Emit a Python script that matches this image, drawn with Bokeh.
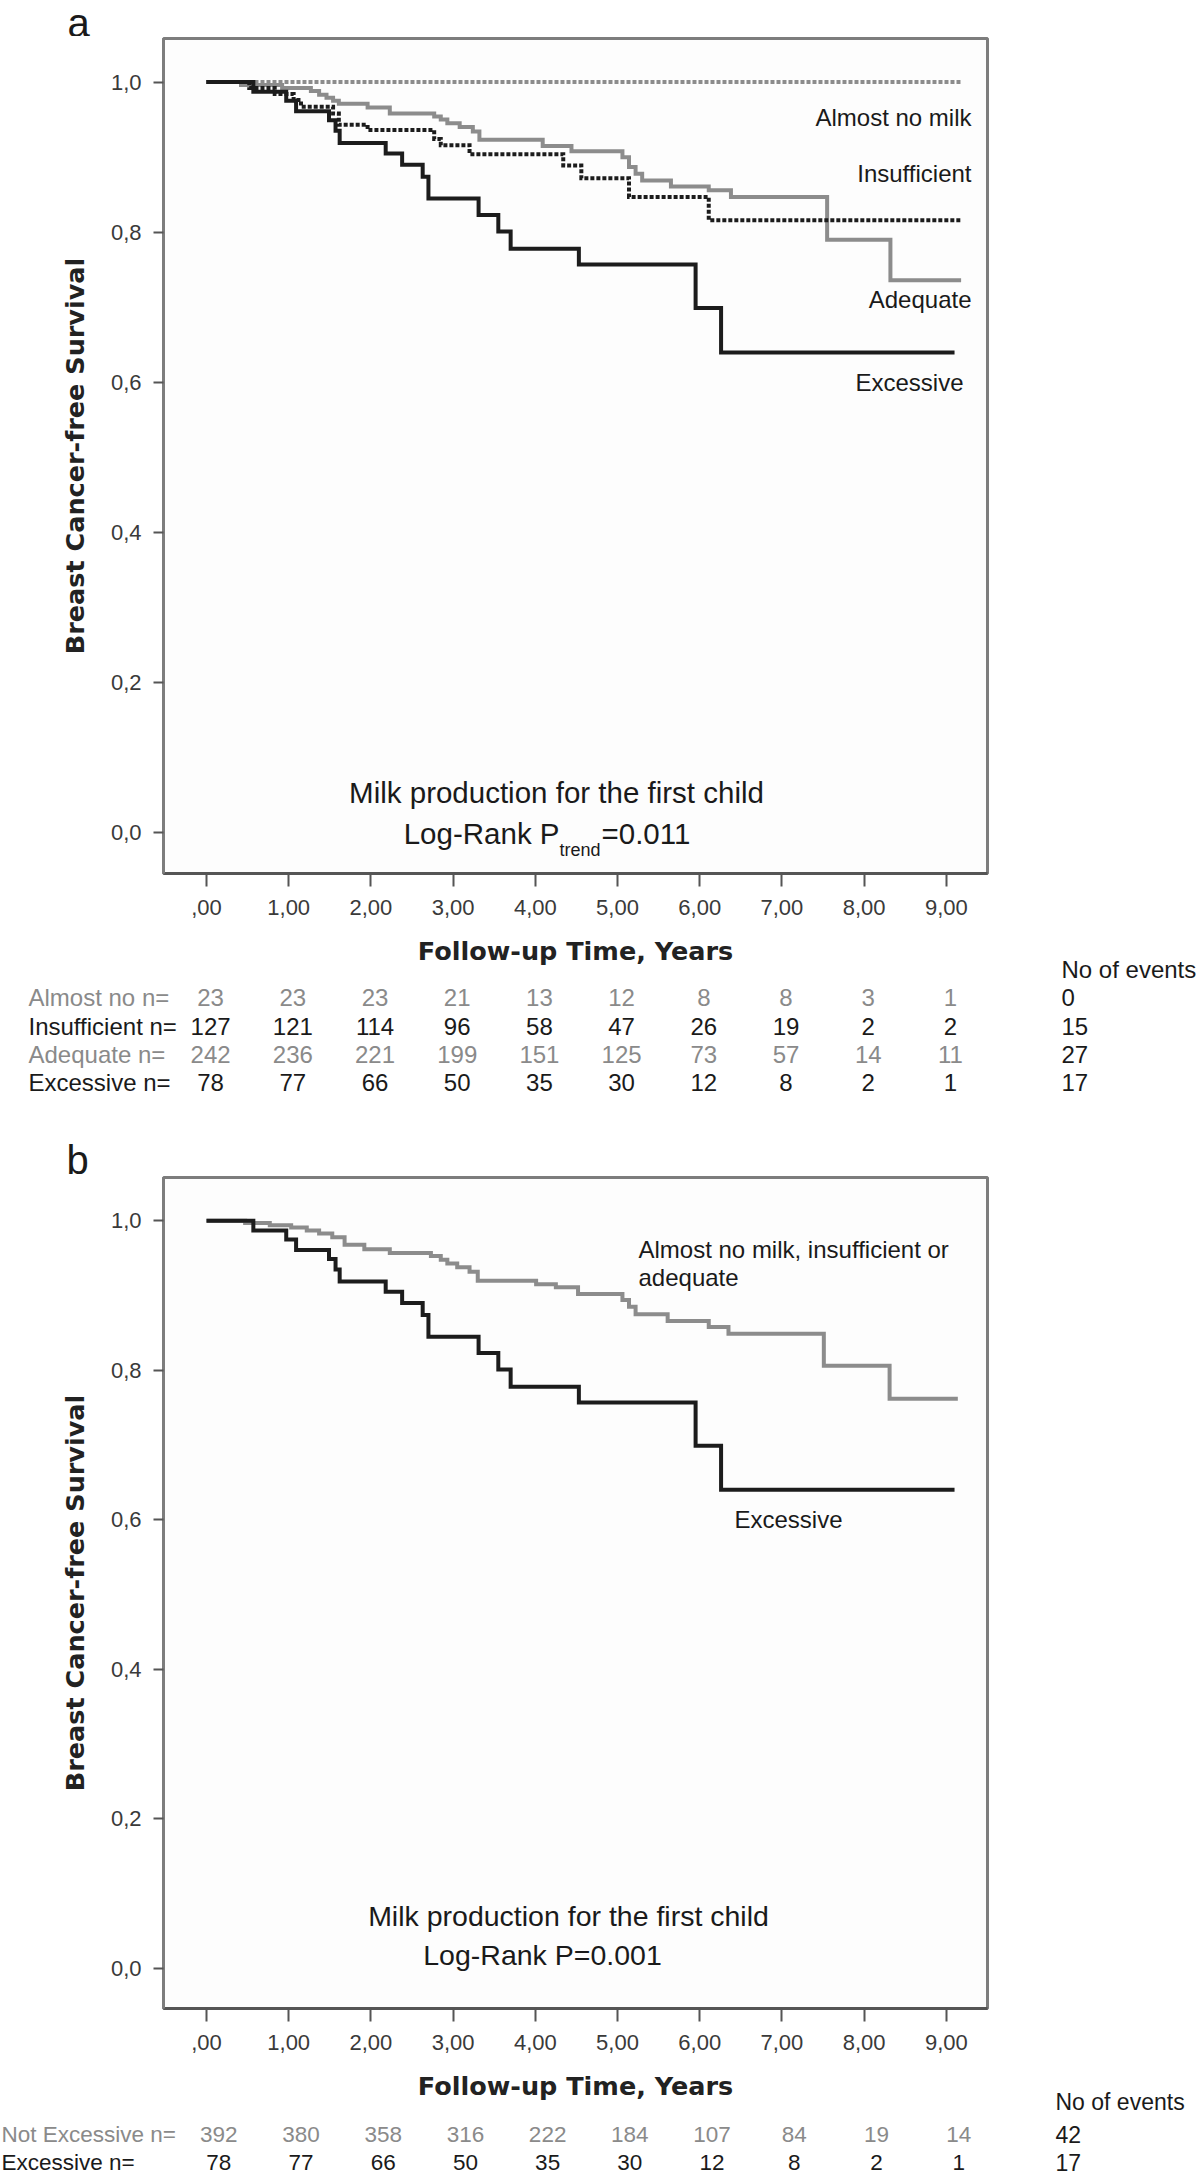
from bokeh.plotting import figure
from bokeh.models import ColumnDataSource, Range1d, FixedTicker
from bokeh.layouts import column, row
from bokeh.embed import file_html
from bokeh.resources import INLINE
from bokeh.core.properties import value

# ------------------------------------------------------------------ data
X_TICKS = [0, 1, 2, 3, 4, 5, 6, 7, 8, 9]
X_TICK_LABELS = [",00", "1,00", "2,00", "3,00", "4,00", "5,00", "6,00", "7,00", "8,00", "9,00"]
Y_TICKS = [0.0, 0.2, 0.4, 0.6, 0.8, 1.0]
Y_TICK_LABELS = ["0,0", "0,2", "0,4", "0,6", "0,8", "1,0"]

# Kaplan-Meier step curves (time in years, survival)
EXC_T = [0.0, 0.57, 0.97, 1.09, 1.49, 1.57, 1.62, 2.18, 2.38, 2.63, 2.70, 3.31, 3.55, 3.70, 4.53, 5.95, 6.26, 9.10]
EXC_S = [1.0, 0.987, 0.975, 0.961, 0.949, 0.935, 0.919, 0.905, 0.890, 0.874, 0.845, 0.823, 0.801, 0.778, 0.757, 0.699, 0.640, 0.640]

ALMOST_T = [0.0, 9.18]
ALMOST_S = [1.0, 1.0]

INSUF_T = [0.0, 0.52, 0.83, 1.06, 1.15, 1.54, 1.61, 1.96, 2.77, 2.85, 3.20, 4.34, 4.56, 5.14, 6.11, 9.18]
INSUF_S = [1.0, 0.992, 0.984, 0.976, 0.967, 0.958, 0.943, 0.936, 0.924, 0.916, 0.904, 0.889, 0.872, 0.847, 0.816, 0.816]

ADEQ_T = [0.0, 0.42, 0.92, 1.27, 1.37, 1.46, 1.54, 1.61, 1.96, 2.23, 2.77, 2.85, 2.93, 3.08, 3.24, 3.32, 4.09,
          4.44, 5.06, 5.14, 5.22, 5.30, 5.65, 6.11, 6.38, 7.55, 8.32, 9.18]
ADEQ_S = [1.0, 0.996, 0.992, 0.988, 0.983, 0.979, 0.975, 0.971, 0.966, 0.958, 0.954, 0.950, 0.945, 0.940, 0.934,
          0.923, 0.915, 0.908, 0.900, 0.887, 0.878, 0.869, 0.861, 0.856, 0.847, 0.790, 0.736, 0.736]

NOTEXC_T = [0.0, 0.47, 0.77, 1.03, 1.22, 1.37, 1.53, 1.68, 1.92, 2.23, 2.73, 2.85, 2.93, 3.05, 3.20, 3.30, 4.01,
            4.25, 4.52, 5.06, 5.14, 5.22, 5.61, 6.11, 6.35, 7.51, 8.31, 9.14]
NOTEXC_S = [1.0, 0.997, 0.994, 0.991, 0.987, 0.983, 0.978, 0.968, 0.962, 0.957, 0.953, 0.948, 0.943, 0.938, 0.932,
            0.920, 0.915, 0.911, 0.902, 0.894, 0.885, 0.875, 0.866, 0.858, 0.849, 0.806, 0.762, 0.762]

# numbers at risk
A_ROWS = ["Almost no n=", "Insufficient n=", "Adequate n=", "Excessive n="]
A_RISK = [
    [23, 23, 23, 21, 13, 12, 8, 8, 3, 1],
    [127, 121, 114, 96, 58, 47, 26, 19, 2, 2],
    [242, 236, 221, 199, 151, 125, 73, 57, 14, 11],
    [78, 77, 66, 50, 35, 30, 12, 8, 2, 1],
]
A_EVENTS = [0, 15, 27, 17]
A_CURVE_LABELS = ["Almost no milk", "Insufficient", "Adequate", "Excessive"]

B_ROWS = ["Not Excessive n=", "Excessive n="]
B_RISK = [
    [392, 380, 358, 316, 222, 184, 107, 84, 19, 14],
    [78, 77, 66, 50, 35, 30, 12, 8, 2, 1],
]
B_EVENTS = [42, 17]
B_CURVE_LABELS = ["Almost no milk, insufficient or", "adequate", "Excessive"]

EVENTS_HEADER = "No of events"
SUBTITLE = "Milk production for the first child"

# ------------------------------------------------------------------ style / layout
GRAY = "#8c8c8c"
BLACK = "#1c1c1c"
TXT_GRAY = "#8a8a8a"
TXT_BLACK = "#1a1a1a"
SANS = "Liberation Sans"
BOLD = "DejaVu Sans"

PAGE_W = 1200
MAIN_W = 1040
FRAME_L, FRAME_R = 163, 987
X_START, X_END = -0.523, 9.501
Y_START, Y_END = -0.054, 1.058
X_UNIT = (FRAME_R - FRAME_L) / (X_END - X_START)


def xd(px):
    """page x pixel -> years"""
    return X_START + (px - FRAME_L) / X_UNIT


def blank_fig(left, right, top, bottom):
    p = figure(width=right - left, height=bottom - top, title=None,
               x_range=Range1d(xd(left), xd(right)), y_range=Range1d(bottom, top),
               output_backend="svg", toolbar_location=None,
               min_border_left=0, min_border_right=0, min_border_top=0, min_border_bottom=0)
    p.axis.visible = False
    p.grid.visible = False
    p.outline_line_color = None
    p.background_fill_color = "white"
    p.border_fill_color = "white"
    return p


def txt(p, xs, ys, texts, size, align="left", color=TXT_BLACK, x_off=0, y_off=0, font=SANS):
    """ys are text baselines; text is anchored at the middle of its font box."""
    cols = color if isinstance(color, list) else [color] * len(xs)
    src = ColumnDataSource(dict(x=xs, y=ys, text=texts, color=cols))
    p.text("x", "y", text="text", source=src, text_font=value(font),
           text_font_size=value(f"{size}px"),
           text_color="color", text_align=align, text_baseline="middle",
           x_offset=x_off, y_offset=y_off - 0.3465 * size)


def make_main(fig_top, fig_bottom, frame_top, frame_bottom):
    p = figure(width=MAIN_W, height=fig_bottom - fig_top, title=None,
               x_range=Range1d(X_START, X_END), y_range=Range1d(Y_START, Y_END),
               output_backend="svg", toolbar_location=None,
               min_border_left=FRAME_L, min_border_right=MAIN_W - FRAME_R,
               min_border_top=frame_top - fig_top, min_border_bottom=fig_bottom - frame_bottom)
    p.grid.visible = False
    p.background_fill_color = "#fdfdfd"
    p.border_fill_color = "white"
    p.outline_line_color = "#7d7d7d"
    p.outline_line_width = 3

    p.xaxis.ticker = FixedTicker(ticks=X_TICKS)
    p.xaxis.major_label_overrides = {t: l for t, l in zip(X_TICKS, X_TICK_LABELS)}
    p.yaxis.ticker = FixedTicker(ticks=Y_TICKS)
    p.yaxis.major_label_overrides = {t: l for t, l in zip(Y_TICKS, Y_TICK_LABELS)}
    for ax in (p.xaxis, p.yaxis):
        ax.minor_tick_line_color = None
        ax.major_tick_in = 0
        ax.major_tick_line_color = "#555555"
        ax.major_tick_line_width = 2
        ax.major_label_text_font = SANS
        ax.major_label_text_font_size = "22px"
        ax.major_label_text_color = "#3a3a3a"
        ax.axis_label_text_font = BOLD
        ax.axis_label_text_font_style = "bold"
        ax.axis_label_text_font_size = "25.5px"
        ax.axis_label_text_color = "#222222"
    p.xaxis.axis_line_color = "#555555"
    p.xaxis.axis_line_width = 3
    p.yaxis.axis_line_color = "#7d7d7d"
    p.yaxis.axis_line_width = 3
    p.xaxis.major_tick_out = 13
    p.xaxis.major_label_standoff = 13
    p.xaxis.axis_label_standoff = 18
    p.yaxis.major_tick_out = 10
    p.yaxis.major_label_standoff = 12
    p.yaxis.axis_label_standoff = 18
    p.xaxis.axis_label = "Follow-up Time, Years"
    p.yaxis.axis_label = "Breast Cancer-free Survival"

    def yd(py):
        return Y_END - (py - frame_top) * (Y_END - Y_START) / (frame_bottom - frame_top)

    return p, yd


def curve(p, t, s, color, dash="solid"):
    src = ColumnDataSource(dict(t=t, s=s))
    p.step("t", "s", source=src, mode="after", line_color=color, line_width=4,
           line_dash=dash, line_join="miter")


def risk_rows(p, rows, risk, colors, label_px, bases, size, shift):
    txt(p, [xd(label_px)] * len(rows), bases, rows, size, color=colors)
    xs, ys, texts, cols = [], [], [], []
    for nums, b, c in zip(risk, bases, colors):
        for t, n in zip(X_TICKS, nums):
            xs.append(t + shift)
            ys.append(b)
            texts.append(str(n))
            cols.append(c)
    txt(p, xs, ys, texts, size, align="center", color=cols)


# ------------------------------------------------------------------ panel a
top_a = blank_fig(0, PAGE_W, 0, 36)
txt(top_a, [xd(67)], [36], ["a"], 40)

pa, ya = make_main(36, 975, 38, 873)
curve(pa, ALMOST_T, ALMOST_S, GRAY, "4 2")
curve(pa, ADEQ_T, ADEQ_S, GRAY)
curve(pa, INSUF_T, INSUF_S, BLACK, "4 2")
curve(pa, EXC_T, EXC_S, BLACK)
txt(pa, [xd(971), xd(971), xd(971), xd(963)], [ya(125), ya(181), ya(307), ya(390)],
    A_CURVE_LABELS, 24, align="right")
txt(pa, [xd(556)], [ya(802)], [SUBTITLE], 29.5, align="center")
txt(pa, [xd(559)], [ya(843)], ["Log-Rank P"], 29.5, align="right")
txt(pa, [xd(559)], [ya(856)], ["trend"], 18, align="left")
txt(pa, [xd(601)], [ya(843)], ["=0.011"], 29.5, align="left")

side_a = blank_fig(MAIN_W, PAGE_W, 36, 984)
txt(side_a, [xd(1061)], [977], [EVENTS_HEADER], 24)

tab_a = blank_fig(0, PAGE_W, 984, 1175)
A_BASES = [1005, 1034, 1062, 1090]
risk_rows(tab_a, A_ROWS, A_RISK, [TXT_GRAY, TXT_BLACK, TXT_GRAY, TXT_BLACK],
          label_px=28, bases=A_BASES, size=24, shift=0.05)
txt(tab_a, [xd(1061)] * len(A_EVENTS), A_BASES, [str(e) for e in A_EVENTS], 24)
txt(tab_a, [xd(66)], [1173], ["b"], 40)

# ------------------------------------------------------------------ panel b
pb, yb = make_main(1175, 2107, 1177, 2008)
curve(pb, NOTEXC_T, NOTEXC_S, GRAY)
curve(pb, EXC_T, EXC_S, BLACK)
txt(pb, [xd(638), xd(638), xd(734)], [yb(1257), yb(1285), yb(1527)], B_CURVE_LABELS, 24)
txt(pb, [xd(568)], [yb(1925)], [SUBTITLE], 28.5, align="center")
txt(pb, [xd(542)], [yb(1964)], ["Log-Rank P=0.001"], 28.5, align="center")

side_b = blank_fig(MAIN_W, PAGE_W, 1175, 2122)
txt(side_b, [xd(1055)], [2109], [EVENTS_HEADER], 23)

tab_b = blank_fig(0, PAGE_W, 2122, 2177)
B_BASES = [2142, 2170]
risk_rows(tab_b, B_ROWS, B_RISK, [TXT_GRAY, TXT_BLACK],
          label_px=1, bases=B_BASES, size=22.5, shift=0.15)
txt(tab_b, [xd(1055)] * len(B_EVENTS), B_BASES, [str(e) for e in B_EVENTS], 23)

# each figure wrapped in its own layout box so that Bokeh does not align their frames
layout = column(row(top_a),
                row(column(pa), column(side_a)),
                row(tab_a),
                row(column(pb), column(side_b)),
                row(tab_b))
open("out.html", "w").write(file_html(layout, INLINE))
